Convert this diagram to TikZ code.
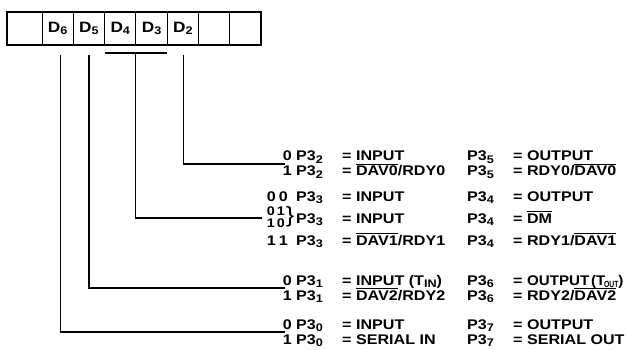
\documentclass[tikz,border=0pt]{standalone}
\usepackage{fontspec}
\setmainfont{Liberation Sans}[FakeStretch=1.15]
\usetikzlibrary{positioning}
\newcommand{\ovl}[1]{\vbox{\hrule height 1pt\kern1.2pt\hbox{#1}}}
\newcommand{\sub}[1]{\raisebox{-2.5pt}{\fontsize{11}{11}\selectfont #1}}
\newcommand{\pn}[1]{\makebox[46pt][l]{P3\sub{#1}}}

\begin{document}
\begin{tikzpicture}[x=1pt, y=-1pt,
  cell/.style={draw, line width=0.9pt, minimum width=31.3pt, minimum height=33pt,
    inner sep=0pt, outer sep=0pt, font=\fontsize{15}{15}\selectfont\bfseries},
  txt/.style={inner sep=0pt, font=\fontsize{14}{14}\selectfont\bfseries},
  sml/.style={inner sep=0pt, font=\fontsize{12.5}{12.5}\selectfont\bfseries},
  wire/.style={line width=1.1pt}]
  \useasboundingbox (0,0) rectangle (627,350);

  % Register cells
  \node[cell, minimum width=35pt] (b0) at (24.5,28.5) {};
  \node[cell, right=0pt of b0] (d6) {D\sub{6}};
  \node[cell, right=0pt of d6] (d5) {D\sub{5}};
  \node[cell, right=0pt of d5] (d4) {D\sub{4}};
  \node[cell, right=0pt of d4] (d3) {D\sub{3}};
  \node[cell, right=0pt of d3] (d2) {D\sub{2}};
  \node[cell, right=0pt of d2] (b1) {};
  \node[cell, right=0pt of b1] (b2) {};
  \draw[line width=2.5pt] (b0.north west) rectangle (b2.south east);

  % Line ends at the text
  \coordinate (e1) at (285,164);
  \coordinate (e2) at (262,218);
  \coordinate (e3) at (285,288);
  \coordinate (e4) at (285,332);

  % Bit lines
  \draw[wire] ([xshift=1pt,yshift=-10pt]d2.south) |- (e1);
  \draw[wire] ([yshift=-8pt]d4.south west) -- ([yshift=-8pt]d3.south east);
  \draw[wire] ([yshift=-8pt]d4.south east) |- (e2);
  \draw[wire] ([yshift=-10pt]d5.south) |- (e3);
  \draw[wire] ([xshift=2.5pt,yshift=-10pt]d6.south) |- (e4);

  % D2: P3_2 and P3_5
  \node[txt, anchor=base east] (k1a) at (292,161) {0};
  \node[txt, anchor=base west] (l1a) at (296,161) {\pn{2}= INPUT};
  \node[txt, anchor=base west] (r1a) at (467,161) {\pn{5}= OUTPUT};
  \node[txt, anchor=base east] (k1b) at (292,176) {1};
  \node[txt, anchor=base west] (l1b) at (296,176) {\pn{2}= \ovl{DAV0}/RDY0};
  \node[txt, anchor=base west] (r1b) at (467,176) {\pn{5}= RDY0/\ovl{DAV0}};

  % D4 D3: P3_3 and P3_4
  \node[txt, anchor=base east] (k2a) at (288,201) {0\kern3pt0};
  \node[txt, anchor=base west] (l2a) at (296,201) {\pn{3}= INPUT};
  \node[txt, anchor=base west] (r2a) at (467,201) {\pn{4}= OUTPUT};
  \node[sml, anchor=base east] (k2b) at (285,215) {0\kern2pt1};
  \node[sml, anchor=base east] (k2c) at (285,228) {1\kern2pt0};
  \node[inner sep=0pt, font=\fontsize{22}{22}\selectfont] (br) at (290,217) {\}};
  \node[txt, anchor=base west] (l2b) at (296,223) {\pn{3}= INPUT};
  \node[txt, anchor=base west] (r2b) at (467,223) {\pn{4}= \ovl{DM}};
  \node[txt, anchor=base east] (k2d) at (288,245) {1\kern3pt1};
  \node[txt, anchor=base west] (l2d) at (296,245) {\pn{3}= \ovl{DAV1}/RDY1};
  \node[txt, anchor=base west] (r2d) at (467,245) {\pn{4}= RDY1/\ovl{DAV1}};

  % D5: P3_1 and P3_6
  \node[txt, anchor=base east] (k3a) at (292,285) {0};
  \node[txt, anchor=base west] (l3a) at (296,285) {\pn{1}= INPUT (T\sub{IN})};
  \node[txt, anchor=base west] (r3a) at (467,285)
    {\pn{6}= \scalebox{0.94}[1]{OUTPUT\kern2pt(T\kern-1.5pt\raisebox{-2.5pt}{\fontsize{9}{9}\selectfont\scalebox{0.7}[1]{OUT}})}};
  \node[txt, anchor=base east] (k3b) at (292,300) {1};
  \node[txt, anchor=base west] (l3b) at (296,300) {\pn{1}= \ovl{DAV2}/RDY2};
  \node[txt, anchor=base west] (r3b) at (467,300) {\pn{6}= RDY2/\ovl{DAV2}};

  % D6: P3_0 and P3_7
  \node[txt, anchor=base east] (k4a) at (292,329) {0};
  \node[txt, anchor=base west] (l4a) at (296,329) {\pn{0}= INPUT};
  \node[txt, anchor=base west] (r4a) at (467,329) {\pn{7}= OUTPUT};
  \node[txt, anchor=base east] (k4b) at (292,344) {1};
  \node[txt, anchor=base west] (l4b) at (296,344) {\pn{0}= SERIAL IN};
  \node[txt, anchor=base west] (r4b) at (467,344) {\pn{7}= SERIAL OUT};
\end{tikzpicture}
\end{document}
